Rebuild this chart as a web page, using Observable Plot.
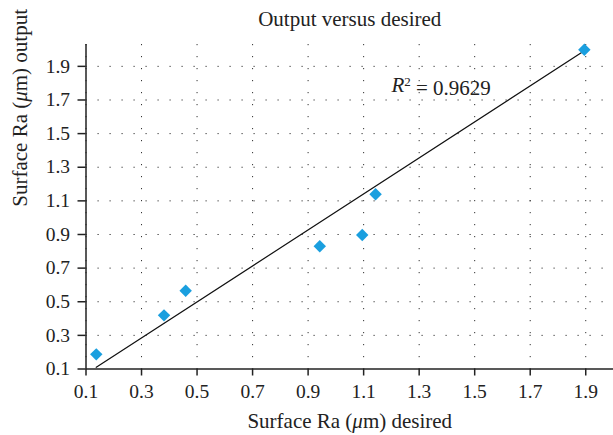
<!DOCTYPE html>
<html>
<head>
<meta charset="utf-8">
<script src="https://cdn.jsdelivr.net/npm/d3@7"></script>
<script src="https://cdn.jsdelivr.net/npm/@observablehq/plot@0.6"></script>
<style>
  html, body { margin: 0; padding: 0; background: #fff; }
  svg { display: block; }
</style>
</head>
<body>
<div id="chart"></div>
<script>
// Data
const desired = [0.137, 0.381, 0.459, 0.942, 1.095, 1.143, 1.895];
const output  = [0.187, 0.419, 0.565, 0.830, 0.897, 1.139, 1.999];
// Trend line end points (as drawn in the reference)
const trendDesired = [0.137, 1.895];
const trendOutput  = [0.110, 1.993];
const xTicks = [0.1, 0.3, 0.5, 0.7, 0.9, 1.1, 1.3, 1.5, 1.7, 1.9];
const yTicks = [0.1, 0.3, 0.5, 0.7, 0.9, 1.1, 1.3, 1.5, 1.7, 1.9];
const titleText = "Output versus desired";
const xLabel = "Surface Ra (μm) desired";
const yLabel = "Surface Ra (μm) output";
const r2Text = "R² = 0.9629";

const points = desired.map((d, i) => ({desired: d, output: output[i]}));
const trend = trendDesired.map((d, i) => ({desired: d, output: trendOutput[i]}));

const font = "Liberation Serif";
const fmt = d3.format(".1f");

const plot = Plot.plot({
  width: 613,
  height: 435,
  marginLeft: 85.5,
  marginRight: 0,
  marginTop: 44,
  marginBottom: 66.5,
  style: {fontFamily: font, background: "#fff"},
  x: {domain: [0.1, 2.0]},
  y: {domain: [0.1, 2.03]},
  marks: [
    Plot.gridX(xTicks, {stroke: "#333", strokeOpacity: 1, strokeWidth: 1, strokeDasharray: "1.2,10.8"}),
    Plot.gridY(yTicks.slice(1), {stroke: "#333", strokeOpacity: 1, strokeWidth: 1, strokeDasharray: "1.2,10.8", x1: 0.1, x2: 2.0}),
    Plot.axisX(xTicks, {tickSize: 7, tickPadding: 8, fontSize: 19.5, fontFamily: font, tickFormat: fmt, label: null, stroke: "#222", strokeWidth: 1.5, fill: "#222"}),
    Plot.axisY(yTicks, {tickSize: 8, tickPadding: 8, fontSize: 19.5, fontFamily: font, tickFormat: fmt, label: null, stroke: "#222", strokeWidth: 1.5, fill: "#222"}),
    Plot.ruleY([0.1], {stroke: "#222", strokeWidth: 1.5}),
    Plot.ruleX([0.1], {stroke: "#222", strokeWidth: 1.5}),
    Plot.line(trend, {x: "desired", y: "output", stroke: "#111", strokeWidth: 1.2}),
    Plot.dot(points, {x: "desired", y: "output", symbol: "diamond2", r: 5.6, fill: "#1a9fdf", stroke: null}),
    Plot.text([r2Text], {x: 1.2, y: 1.788, text: d => d, textAnchor: "start", lineAnchor: "middle", fontSize: 21, fontFamily: font, fill: "#222", className: "r2"}),
    Plot.text([titleText], {frameAnchor: "top", dy: -25, lineAnchor: "middle", text: d => d, fontSize: 21, fontFamily: font, fill: "#222"}),
    Plot.text([xLabel], {frameAnchor: "bottom", dy: 52, lineAnchor: "middle", text: d => d, fontSize: 21, fontFamily: font, fill: "#222", className: "xlab"}),
    Plot.text([yLabel], {frameAnchor: "left", dx: -66, rotate: -90, lineAnchor: "middle", text: d => d, fontSize: 21, fontFamily: font, fill: "#222", className: "ylab"})
  ]
});

// Italic μ in axis labels and italic R / superscript 2 in the annotation
function richLabel(sel, before, italic, after) {
  sel.text(null);
  sel.append("tspan").text(before);
  sel.append("tspan").attr("font-style", "italic").text(italic);
  sel.append("tspan").text(after);
}
d3.select(plot).selectAll(".xlab text").each(function() { richLabel(d3.select(this), "Surface Ra (", "μ", "m) desired"); });
d3.select(plot).selectAll(".ylab text").each(function() { richLabel(d3.select(this), "Surface Ra (", "μ", "m) output"); });
d3.select(plot).selectAll(".r2 text").each(function() {
  const t = d3.select(this);
  t.text(null);
  t.append("tspan").attr("font-style", "italic").text("R");
  t.append("tspan").attr("font-size", 13).attr("dy", "-0.42em").text("2");
  t.append("tspan").attr("dy", "0.42em").text(" = 0.9629");
});

document.getElementById("chart").appendChild(plot);
</script>
</body>
</html>
